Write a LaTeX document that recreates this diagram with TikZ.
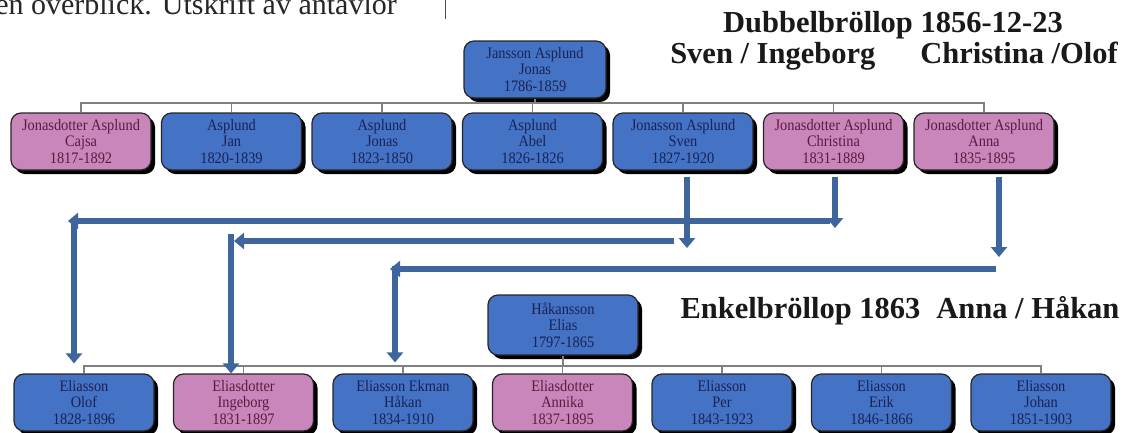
\documentclass[tikz,border=0pt]{standalone}
\usepackage{fontspec}
\setmainfont{Liberation Serif}
\newfontfamily\boxfont[FakeStretch=0.9]{Liberation Serif}
\usepackage{tikz}
\usetikzlibrary{shadows, arrows.meta}
\definecolor{mblue}{RGB}{68,114,196}
\definecolor{fpink}{RGB}{200,134,186}
\definecolor{mtext}{RGB}{25,35,85}
\definecolor{ftext}{RGB}{95,25,65}
\definecolor{abl}{RGB}{62,102,156}
\definecolor{lgray}{RGB}{128,128,128}
\tikzstyle{person} = [rectangle, rounded corners=10pt, minimum width=140pt, minimum height=57pt, inner sep=0pt, text centered, align=center, draw=black!85, line width=1.2pt, drop shadow={shadow xshift=4pt, shadow yshift=-4pt, fill=black, opacity=1}, font=\boxfont\fontsize{16}{16.5}\selectfont]
\tikzstyle{male} = [person, fill=mblue, text=mtext]
\tikzstyle{female} = [person, fill=fpink, text=ftext]
\tikzstyle{tree} = [draw=lgray, line width=1.2pt]
\tikzstyle{arrow} = [draw=abl, line width=6pt, -{Triangle[width=16pt,length=10pt]}]
\tikzstyle{heading} = [inner sep=0pt, text=black!90, font=\fontsize{30.5}{31}\selectfont\bfseries]

\begin{document}
\begin{tikzpicture}[x=1pt, y=-1pt, node distance=150.5pt]
\useasboundingbox (0,0) rectangle (1128,432);

% page text cut at the top
\node (frag) [anchor=base east, inner sep=0pt, text=black!85, font=\fontsize{30}{36}\selectfont] at (397,14) {en överblick. Utskrift av antavlor};
\coordinate (m1) at (445,0);
\coordinate (m2) at (445,19);
\draw[black!70, line width=1pt] (m1) -- (m2);

% Jonas and his children
\node(jonas) [male, minimum width=142pt] at (535,69.5) {Jansson Asplund\\Jonas\\1786-1859};
\node(cajsa) [female] at (81,141.5) {Jonasdotter Asplund\\Cajsa\\1817-1892};
\node(jan) [male, right of=cajsa] {Asplund\\Jan\\1820-1839};
\node(jonasj) [male, right of=jan] {Asplund\\Jonas\\1823-1850};
\node(abel) [male, right of=jonasj] {Asplund\\Abel\\1826-1826};
\node(sven) [male, right of=abel] {Jonasson Asplund\\Sven\\1827-1920};
\node(christina) [female, right of=sven] {Jonasdotter Asplund\\Christina\\1831-1889};
\node(anna) [female, right of=christina] {Jonasdotter Asplund\\Anna\\1835-1895};

\coordinate (bar1) at (535,103);
\draw[tree] (jonas.south) -- (bar1);
\foreach \c in {cajsa,jan,jonasj,abel,sven,christina,anna}
  \draw[tree] (bar1) -| (\c.north);

% Elias and his children
\node(elias) [male, minimum width=150pt, minimum height=60pt] at (563,325) {Håkansson\\Elias\\1797-1865};
\begin{scope}[node distance=159.5pt, minimum width=146pt]
\node(olof) [male] at (84,402.5) {Eliasson\\Olof\\1828-1896};
\node(ingeborg) [female, right of=olof] {Eliasdotter\\Ingeborg\\1831-1897};
\node(hakan) [male, right of=ingeborg] {Eliasson Ekman\\Håkan\\1834-1910};
\node(annika) [female, right of=hakan] {Eliasdotter\\Annika\\1837-1895};
\node(per) [male, right of=annika] {Eliasson\\Per\\1843-1923};
\node(erik) [male, right of=per] {Eliasson\\Erik\\1846-1866};
\node(johan) [male, right of=erik] {Eliasson\\Johan\\1851-1903};
\end{scope}

\coordinate (bar2) at (563,366);
\draw[tree] (elias.south) -- (bar2);
\foreach \c in {olof,ingeborg,hakan,annika,per,erik,johan}
  \draw[tree] (bar2) -| (\c.north);

% weddings
\node(dubbel) [heading, anchor=base] at (893,32) {Dubbelbröllop 1856-12-23};
\node(par) [heading, anchor=base] at (894,63) {Sven / Ingeborg\hspace{45pt}Christina /Olof};
\node(enkel) [heading, anchor=base] at (900,318) {Enkelbröllop 1863\hspace{16pt}Anna / Håkan};

% Sven -> Ingeborg
\coordinate (sv) at (687,248);
\coordinate (svl1) at (674,241);
\coordinate (svl2) at (234,241);
\coordinate (svd) at (231,234);
\draw[arrow, shorten <=6pt] (sven.south -| sv) -- (sv);
\draw[arrow] (svl1) -- (svl2);
\draw[arrow] (svd) -- (ingeborg.north -| svd);

% Christina -> Olof
\coordinate (ch) at (835,228);
\coordinate (chl1) at (830,221);
\coordinate (chl2) at (68,221);
\coordinate (chd) at (74,218);
\draw[arrow, shorten <=6pt] (christina.south -| ch) -- (ch);
\draw[arrow] (chl1) -- (chl2);
\draw[arrow, shorten >=10pt] (chd) -- (olof.north -| chd);

% Anna -> Hakan
\coordinate (an) at (999,257);
\coordinate (anl1) at (996,269);
\coordinate (anl2) at (390,269);
\coordinate (and) at (395,266);
\draw[arrow, shorten <=6pt] (anna.south -| an) -- (an);
\draw[arrow] (anl1) -- (anl2);
\draw[arrow, shorten >=11pt] (and) -- (hakan.north -| and);
\end{tikzpicture}
\end{document}
